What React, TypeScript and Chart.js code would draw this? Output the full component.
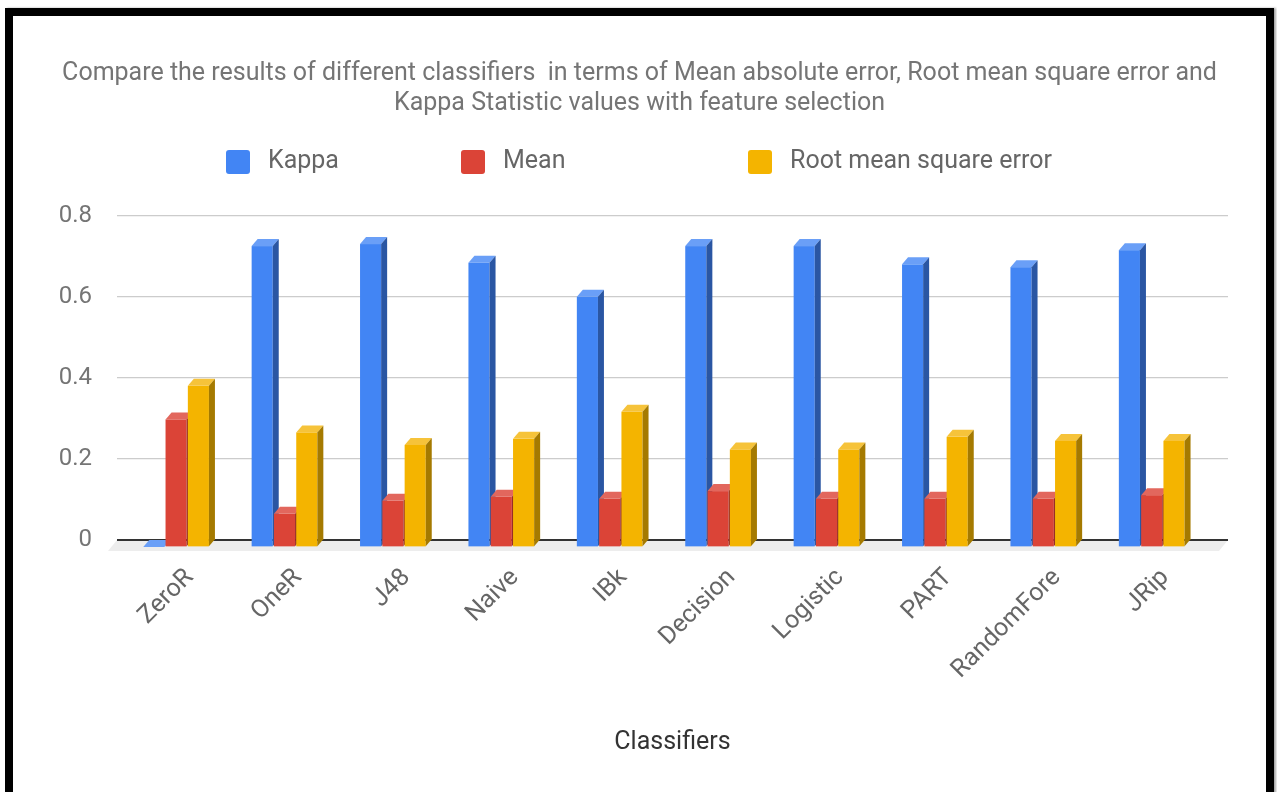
import React, { useEffect, useRef } from "react";
import { Chart, registerables } from "chart.js";

Chart.register(...registerables);

// ---------- data ----------
const categories = ["ZeroR", "OneR", "J48", "Naive", "IBk", "Decision", "Logistic", "PART", "RandomFore", "JRip"];
const kappa = [0, 0.743, 0.748, 0.702, 0.618, 0.743, 0.743, 0.698, 0.691, 0.733];
const meanAbsError = [0.315, 0.082, 0.114, 0.124, 0.119, 0.138, 0.119, 0.119, 0.119, 0.128];
const rootMeanSquareError = [0.398, 0.283, 0.252, 0.267, 0.334, 0.241, 0.241, 0.272, 0.262, 0.262];
const seriesNames = ["Kappa", "Mean", "Root mean square error"];
const yTicks = [0, 0.2, 0.4, 0.6, 0.8];
const titleLines = [
  "Compare the results of different classifiers  in terms of Mean absolute error, Root mean square error and",
  "Kappa Statistic values with feature selection",
];
const xAxisTitle = "Classifiers";

// ---------- styles ----------
const FRONT = ["#4285F4", "#DB4437", "#F4B400"];
const TOP = ["#6a9ff7", "#e2675d", "#f6c33a"];
const SIDE = ["#2a56a3", "#992d25", "#a57a00"];
const DX = 6;
const DY = 7;
const FONT = "Roboto, 'Noto Sans', sans-serif";
const LEGEND_X = [213, 448, 735];
const LEGEND_Y = 146;

const bars3dPlugin = {
  id: "bars3d",
  beforeDatasetsDraw(chart: any) {
    const ctx = chart.ctx;
    const { left, right } = chart.chartArea;
    const y0 = chart.scales.y.getPixelForValue(0);
    ctx.save();
    // floor
    ctx.fillStyle = "#ededed";
    ctx.beginPath();
    ctx.moveTo(left, y0);
    ctx.lineTo(right, y0);
    ctx.lineTo(right - DX - 3, y0 + DY + 4);
    ctx.lineTo(left - DX - 3, y0 + DY + 4);
    ctx.closePath();
    ctx.fill();
    // axis line
    ctx.strokeStyle = "#333333";
    ctx.lineWidth = 2;
    ctx.beginPath();
    ctx.moveTo(left, y0);
    ctx.lineTo(right, y0);
    ctx.stroke();
    // bars
    chart.data.datasets.forEach((_ds: any, di: number) => {
      const meta = chart.getDatasetMeta(di);
      meta.data.forEach((el: any) => {
        const { x, y, base, width } = el.getProps(["x", "y", "base", "width"], true);
        const l = x - width / 2 - DX;
        const r = l + width - 1.2;
        const top = y + DY;
        const bot = base + DY;
        ctx.fillStyle = FRONT[di];
        ctx.fillRect(l, top, r - l, bot - top);
        ctx.fillStyle = TOP[di];
        ctx.beginPath();
        ctx.moveTo(l, top);
        ctx.lineTo(l + DX, top - DY);
        ctx.lineTo(r + DX, top - DY);
        ctx.lineTo(r, top);
        ctx.closePath();
        ctx.fill();
        ctx.fillStyle = SIDE[di];
        ctx.beginPath();
        ctx.moveTo(r, top);
        ctx.lineTo(r + DX, top - DY);
        ctx.lineTo(r + DX, bot - DY);
        ctx.lineTo(r, bot);
        ctx.closePath();
        ctx.fill();
      });
    });
    ctx.restore();
    return false;
  },
};

const legendPlugin = {
  id: "customLegend",
  afterDraw(chart: any) {
    const ctx = chart.ctx;
    ctx.save();
    ctx.font = `25px ${FONT}`;
    ctx.textBaseline = "middle";
    ctx.textAlign = "left";
    chart.data.datasets.forEach((ds: any, i: number) => {
      const bx = LEGEND_X[i];
      ctx.fillStyle = FRONT[i];
      ctx.beginPath();
      (ctx as any).roundRect(bx, LEGEND_Y - 12, 24, 24, 3);
      ctx.fill();
      ctx.fillStyle = "#666666";
      ctx.fillText(ds.label, bx + 42, LEGEND_Y);
    });
    ctx.restore();
  },
};

export default function App() {
  const ref = useRef<HTMLCanvasElement | null>(null);

  useEffect(() => {
    if (!ref.current) return;
    const series = [kappa, meanAbsError, rootMeanSquareError];
    const chart = new Chart(ref.current, {
      type: "bar",
      data: {
        datasets: series.map((vals, i) => ({
          label: seriesNames[i],
          data: vals.map((v, j) => ({ x: j, y: v })),
          backgroundColor: FRONT[i],
          barThickness: 22.3,
          yAxisID: "y",
        })),
      },
      options: {
        responsive: false,
        animation: false,
        events: [],
        layout: { padding: 0 },
        plugins: {
          legend: { display: false },
          tooltip: { enabled: false },
          title: {
            display: true,
            text: titleLines,
            color: "#757575",
            font: { family: FONT, size: 25, weight: "normal", lineHeight: "30px" },
            padding: { top: 43, bottom: 97 },
          },
        },
        scales: {
          x: {
            type: "linear",
            offset: false,
            min: -0.606,
            max: 9.643,
            afterBuildTicks: (axis: any) => {
              axis.ticks = categories.map((_, i) => ({ value: i }));
            },
            afterFit: (scale: any) => {
              scale.height = 252;
            },
            grid: { display: false, drawTicks: false, offset: false },
            border: { display: false },
            ticks: {
              autoSkip: false,
              minRotation: 45,
              maxRotation: 45,
              padding: 23,
              labelOffset: 7,
              color: "#666666",
              font: { family: FONT, size: 25 },
              callback: (v: any) => categories[v] ?? "",
            },
            title: {
              display: true,
              text: xAxisTitle,
              color: "#333333",
              font: { family: FONT, size: 25 },
              padding: { top: 0, bottom: 34 },
            },
          },
          y: {
            min: 0,
            max: 0.8,
            afterBuildTicks: (axis: any) => {
              axis.ticks = yTicks.map((v) => ({ value: v }));
            },
            afterFit: (scale: any) => {
              scale.width = 104;
            },
            grid: {
              drawTicks: false,
              color: (c: any) => (c.tick && c.tick.value === 0 ? "rgba(0,0,0,0)" : "#cccccc"),
              lineWidth: 1.3,
            },
            border: { display: false },
            ticks: {
              padding: 25,
              color: "#757575",
              font: { family: FONT, size: 24 },
              callback: (v: any) => (v === 0 ? "0" : Number(v).toFixed(1)),
            },
          },
          yRight: {
            type: "linear",
            position: "right",
            display: true,
            min: 0,
            max: 0.8,
            afterFit: (scale: any) => {
              scale.width = 38;
            },
            grid: { display: false, drawTicks: false },
            border: { display: false },
            ticks: { display: false },
          },
        },
      } as any,
      plugins: [bars3dPlugin, legendPlugin],
    });
    return () => chart.destroy();
  }, []);

  return (
    <div
      style={{
        position: "absolute",
        left: 0,
        top: 0,
        width: 1277,
        height: 792,
        background: "#ffffff",
        overflow: "hidden",
      }}
    >
      <div
        style={{
          position: "absolute",
          left: 5,
          top: 8,
          width: 1269,
          height: 820,
          boxSizing: "border-box",
          border: "8px solid #000000",
          background: "#ffffff",
          boxShadow: "2px 0 2px rgba(0,0,0,0.35)",
        }}
      >
        <canvas
          ref={ref}
          width={1253}
          height={776}
          style={{ position: "absolute", left: 0, top: 0, width: 1253, height: 776 }}
        />
      </div>
    </div>
  );
}
